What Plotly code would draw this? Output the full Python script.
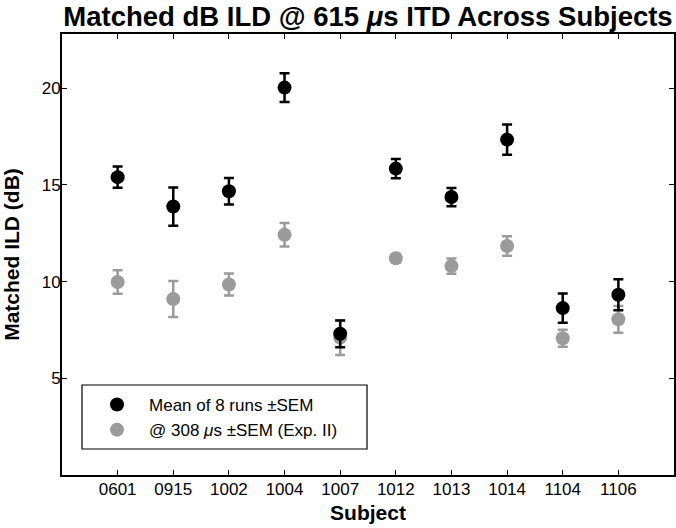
import plotly.graph_objects as go

subjects = ["0601", "0915", "1002", "1004", "1007", "1012", "1013", "1014", "1104", "1106"]
mean_615 = [15.40, 13.88, 14.67, 20.03, 7.30, 15.84, 14.37, 17.34, 8.63, 9.32]
sem_615 = [0.55, 0.99, 0.69, 0.74, 0.69, 0.50, 0.47, 0.78, 0.76, 0.80]
mean_308 = [9.98, 9.10, 9.85, 12.42, 7.10, 11.20, 10.80, 11.84, 7.07, 8.05]
sem_308 = [0.61, 0.93, 0.57, 0.61, 0.90, 0.22, 0.39, 0.50, 0.44, 0.69]
y_ticks = [5, 10, 15, 20]

FONT = "Liberation Sans, Arial, Helvetica, sans-serif"
GRAY = "#9b9b9b"

fig = go.Figure()
fig.add_trace(go.Scatter(
    x=subjects, y=mean_308, mode="markers", name="@ 308 <i>\u03bc</i>s \u00b1SEM (Exp. II)",
    marker=dict(color=GRAY, size=14, line=dict(width=0)),
    error_y=dict(type="data", array=sem_308, color=GRAY, thickness=2.5, width=5),
    legendrank=2,
))
fig.add_trace(go.Scatter(
    x=subjects, y=mean_615, mode="markers", name="Mean of 8 runs \u00b1SEM",
    marker=dict(color="black", size=14, line=dict(width=0)),
    error_y=dict(type="data", array=sem_615, color="black", thickness=2.5, width=5),
    legendrank=1,
))

# legend frame
fig.add_shape(type="rect", xref="paper", yref="paper",
              x0=0.0327, x1=0.4984, y0=0.059, y1=0.2041,
              line=dict(color="black", width=1.2), fillcolor="rgba(0,0,0,0)", layer="above")

fig.update_layout(
    width=676, height=528,
    margin=dict(l=62, r=2, t=34, b=53, autoexpand=False),
    paper_bgcolor="white", plot_bgcolor="white",
    font=dict(family=FONT, size=17, color="black"),
    title=dict(text="<b>Matched dB ILD @ 615 <i>\u03bc</i>s ITD Across Subjects</b>",
               xref="paper", x=0.5, xanchor="center",
               yref="container", y=0.969, yanchor="middle",
               font=dict(size=27.5, family=FONT)),
    showlegend=True,
    legend=dict(x=0.0376, y=0.1995, xanchor="left", yanchor="top",
                bgcolor="rgba(0,0,0,0)", borderwidth=0,
                font=dict(size=17, family=FONT), itemwidth=54),
)
fig.update_xaxes(
    type="category", range=[-1, 10], automargin=False,
    showline=True, linecolor="black", linewidth=2, mirror="ticks",
    ticks="inside", ticklen=5, tickwidth=1, tickcolor="black",
    showgrid=False, zeroline=False, ticklabelstandoff=-2,
    title=dict(text="<b>Subject</b>", font=dict(size=21, family=FONT), standoff=7),
    tickfont=dict(size=17),
)
fig.update_yaxes(
    range=[0, 22.8], tickvals=y_ticks, automargin=False,
    showline=True, linecolor="black", linewidth=2, mirror="ticks",
    ticks="inside", ticklen=5, tickwidth=1, tickcolor="black",
    showgrid=False, zeroline=False, ticklabelstandoff=-4,
    title=dict(text="<b>Matched ILD (dB)</b>", font=dict(size=21, family=FONT), standoff=22),
    tickfont=dict(size=17),
)

fig.write_html("out.html", config={"displayModeBar": False},
               post_script="document.body.style.margin='0';document.body.style.overflow='hidden';")
